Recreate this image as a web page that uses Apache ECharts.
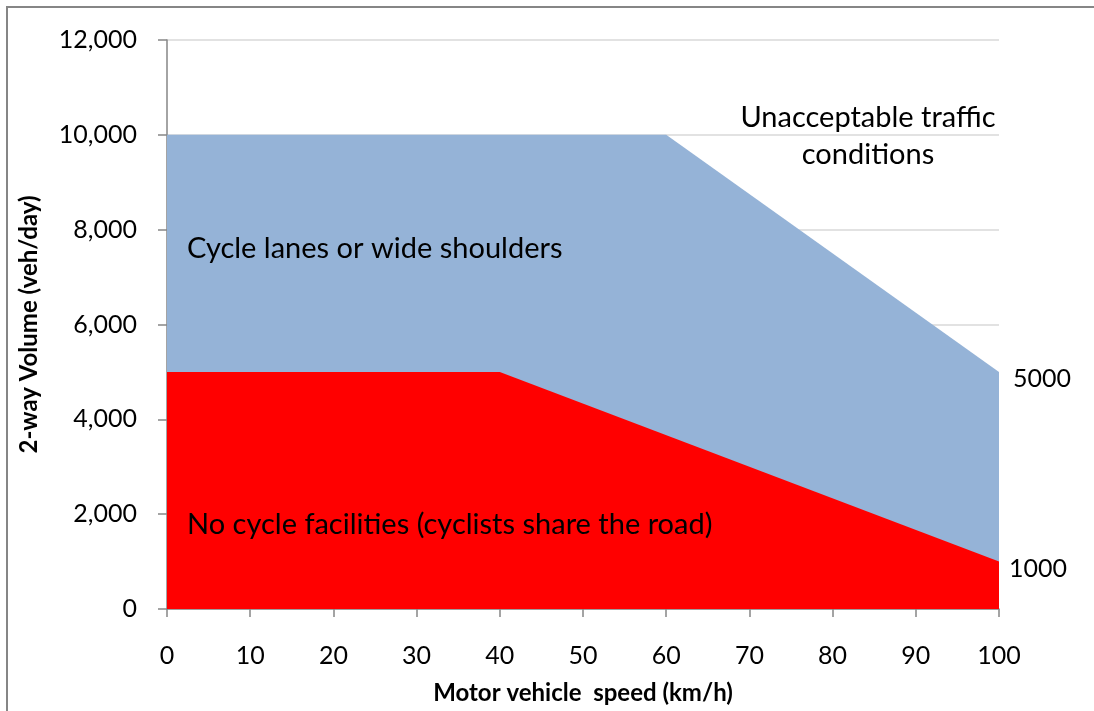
<!DOCTYPE html>
<html>
<head>
<meta charset="utf-8">
<script src="https://cdn.jsdelivr.net/npm/echarts@6/dist/echarts.min.js"></script>
<style>
html,body{margin:0;padding:0;background:#fff;}
#chart{width:1094px;height:711px;}
</style>
</head>
<body>
<div id="chart"></div>
<script>
// Data
var speedNoFacilities = [0, 40, 100];
var volumeNoFacilities = [5000, 5000, 1000];
var speedCycleLanes = [0, 60, 100];
var volumeCycleLanes = [10000, 10000, 5000];
var xTicks = [0, 10, 20, 30, 40, 50, 60, 70, 80, 90, 100];
var yTicks = [0, 2000, 4000, 6000, 8000, 10000, 12000];

var FONT = 'Lato';

function pairs(xs, ys) {
  return xs.map(function (x, i) { return [x, ys[i]]; });
}

var chart = echarts.init(document.getElementById('chart'), null, {renderer: 'canvas'});

var option = {
  animation: false,
  backgroundColor: '#ffffff',
  grid: {left: 167, right: 95, top: 40, bottom: 102, containLabel: false},
  xAxis: {
    type: 'value',
    min: xTicks[0], max: xTicks[xTicks.length - 1], interval: 10,
    name: 'Motor vehicle  speed (km/h)',
    nameLocation: 'middle', nameGap: 72,
    nameTextStyle: {fontFamily: FONT, fontWeight: 'bold', fontSize: 24, color: '#000'},
    axisLine: {show: true, lineStyle: {color: '#868686', width: 1.5}},
    axisTick: {show: true, length: 8, lineStyle: {color: '#868686', width: 1.5}},
    axisLabel: {fontFamily: FONT, fontSize: 25, color: '#000', margin: 34},
    splitLine: {show: false}
  },
  yAxis: {
    type: 'value',
    min: yTicks[0], max: yTicks[yTicks.length - 1], interval: 2000,
    name: '2-way Volume (veh/day)',
    nameLocation: 'middle', nameGap: 126,
    nameTextStyle: {fontFamily: FONT, fontWeight: 'bold', fontSize: 24, color: '#000'},
    axisLine: {show: true, lineStyle: {color: '#868686', width: 1.5}},
    axisTick: {show: true, length: 9, lineStyle: {color: '#868686', width: 1.5}},
    axisLabel: {fontFamily: FONT, fontSize: 25, color: '#000', margin: 30},
    splitLine: {show: true, lineStyle: {color: '#d9d9d9', width: 1.5}}
  },
  series: [
    {
      type: 'line',
      name: 'Cycle lanes or wide shoulders',
      data: pairs(speedCycleLanes, volumeCycleLanes),
      showSymbol: false,
      symbol: 'none',
      lineStyle: {width: 0},
      areaStyle: {color: '#95b3d7', opacity: 1},
      endLabel: {
        show: true, formatter: function (p) { return String(p.value[1]); },
        fontFamily: FONT, fontSize: 25, color: '#000', offset: [6, 7]
      },
      z: 2
    },
    {
      type: 'line',
      name: 'No cycle facilities',
      data: pairs(speedNoFacilities, volumeNoFacilities),
      showSymbol: false,
      symbol: 'none',
      lineStyle: {width: 0},
      areaStyle: {color: '#ff0000', opacity: 1},
      endLabel: {
        show: true, formatter: function (p) { return String(p.value[1]); },
        fontFamily: FONT, fontSize: 25, color: '#000', offset: [2, 7]
      },
      z: 3
    }
  ],
  graphic: [
    {
      type: 'rect', silent: true, z: 100,
      shape: {x: 7, y: 7, width: 1120, height: 740},
      style: {fill: 'none', stroke: '#868686', lineWidth: 2}
    },
    {
      type: 'text', z: 100, left: 187, top: 234,
      style: {text: 'Cycle lanes or wide shoulders', fontFamily: FONT, fontSize: 29, fill: '#000'}
    },
    {
      type: 'text', z: 100, left: 187, top: 510,
      style: {text: 'No cycle facilities (cyclists share the road)', fontFamily: FONT, fontSize: 29, fill: '#000'}
    },
    {
      type: 'text', z: 100, x: 868, y: 99,
      style: {text: 'Unacceptable traffic\nconditions', fontFamily: FONT, fontSize: 29, lineHeight: 37, align: 'center', fill: '#000'}
    }
  ]
};

chart.setOption(option);
</script>
</body>
</html>
